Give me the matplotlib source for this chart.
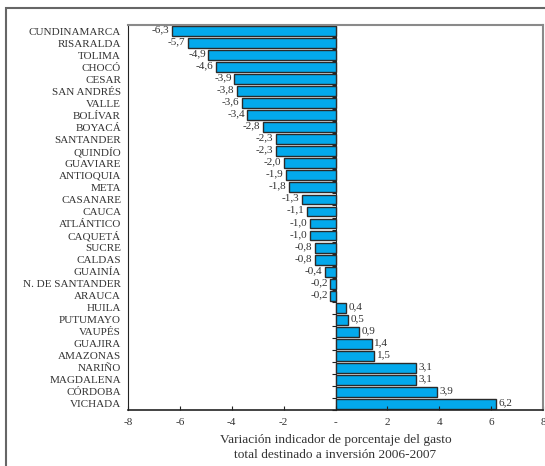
import matplotlib.pyplot as plt
import matplotlib.patches as mpatches
import numpy as np

# departamentos y variacion (puntos porcentuales)
departamentos = ['CUNDINAMARCA', 'RISARALDA', 'TOLIMA', 'CHOCÓ', 'CESAR', 'SAN ANDRÉS',
                 'VALLE', 'BOLÍVAR', 'BOYACÁ', 'SANTANDER', 'QUINDÍO', 'GUAVIARE',
                 'ANTIOQUIA', 'META', 'CASANARE', 'CAUCA', 'ATLÁNTICO', 'CAQUETÁ',
                 'SUCRE', 'CALDAS', 'GUAINÍA', 'N. DE SANTANDER', 'ARAUCA', 'HUILA',
                 'PUTUMAYO', 'VAUPÉS', 'GUAJIRA', 'AMAZONAS', 'NARIÑO', 'MAGDALENA',
                 'CÓRDOBA', 'VICHADA']
variacion = [-6.3, -5.7, -4.9, -4.6, -3.9, -3.8, -3.6, -3.4, -2.8, -2.3, -2.3, -2.0,
             -1.9, -1.8, -1.3, -1.1, -1.0, -1.0, -0.8, -0.8, -0.4, -0.2, -0.2, 0.4,
             0.5, 0.9, 1.4, 1.5, 3.1, 3.1, 3.9, 6.2]
xticks = [-8, -6, -4, -2, 0, 2, 4, 6, 8]
xlabels = ['-8', '-6', '-4', '-2', '-', '2', '4', '6', '8']

plt.rcParams['font.family'] = ['Liberation Serif', 'DejaVu Serif']
txt = '#333333'

fig = plt.figure(figsize=(5.45, 4.66), dpi=100)
ax = fig.add_axes([128/545, 1 - 410/466, 415/545, 385/466])

# marco exterior
fig.patches.append(mpatches.Rectangle((6/545, -0.1), 1.2, 1.1 - 8/466,
                                      transform=fig.transFigure, fill=False,
                                      edgecolor='#666666', linewidth=1.5))

y = np.arange(len(departamentos))
ax.barh(y, variacion, height=0.82, color='#03A9EC', edgecolor='#2a2a2a', linewidth=1.0)

for yi, v in zip(y, variacion):
    s = f'{v:.1f}'.replace('.', ',')
    if v < 0:
        ax.text(v - 0.1, yi - 0.1, s, ha='right', va='center', fontsize=8, color=txt)
    else:
        ax.text(v + 0.1, yi - 0.1, s, ha='left', va='center', fontsize=8, color=txt)

ax.set_xlim(-8, 8)
ax.set_ylim(len(departamentos) - 0.5, -0.5)
ax.set_yticks(y)
ax.set_yticklabels(departamentos, fontsize=8, color=txt)
ax.tick_params(axis='y', length=0, pad=5)
ax.set_xticks(xticks)
ax.set_xticklabels(xlabels, fontsize=8, color=txt)
ax.tick_params(axis='x', direction='in', length=3, pad=6, color='#222222')

ax.set_xlabel('Variación indicador de porcentaje del gasto\ntotal destinado a inversión 2006-2007',
              fontsize=9.6, color=txt, labelpad=5, linespacing=1.3)

ax.spines['left'].set_color('#222222')
ax.spines['bottom'].set_color('#222222')
ax.spines['bottom'].set_linewidth(1.2)
ax.spines['top'].set_color('#8a8a8a')
ax.spines['top'].set_linewidth(1.5)
ax.spines['right'].set_color('#8a8a8a')
ax.spines['right'].set_linewidth(1.5)

# eje de categorias en cero
sec = ax.secondary_yaxis(0.5)
sec.set_yticks(np.arange(len(departamentos) + 1) - 0.5)
sec.set_yticklabels([])
sec.tick_params(axis='y', direction='in', length=3, color='#222222')
sec.spines['left'].set_color('#222222')
sec.spines['right'].set_color('#222222')

fig.savefig('out.png', dpi=100)
